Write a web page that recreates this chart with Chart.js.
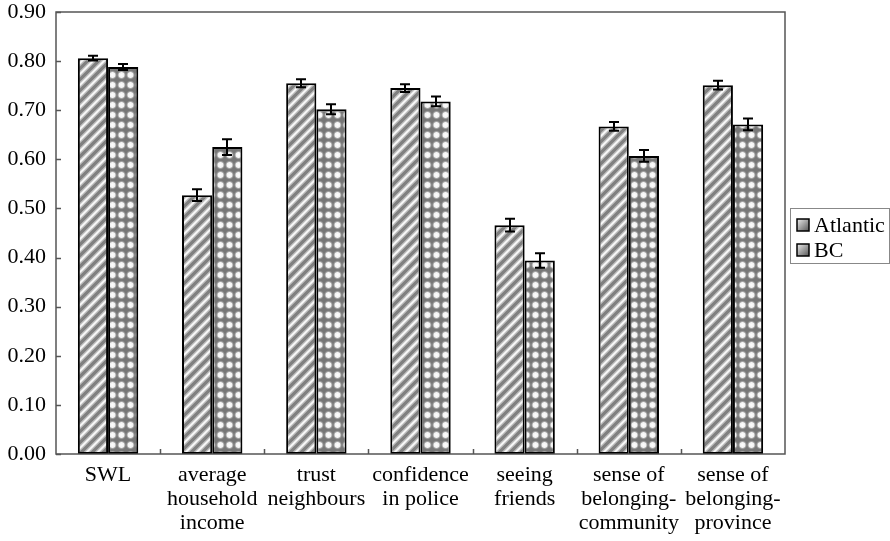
<!DOCTYPE html>
<html>
<head>
<meta charset="utf-8">
<script src="https://cdn.jsdelivr.net/npm/chart.js@4.4.0/dist/chart.umd.min.js"></script>
<style>
  body { margin: 0; background: #fff; }
  #wrap { width: 890px; height: 541px; }
</style>
</head>
<body>
<div id="wrap"><canvas id="chart" width="890" height="541"></canvas></div>
<script>
// chart data
const categories = [
    'SWL',
    ['average', 'household', 'income'],
    ['trust', 'neighbours'],
    ['confidence', 'in police'],
    ['seeing', 'friends'],
    ['sense of', 'belonging-', 'community'],
    ['sense of', 'belonging-', 'province']
];
const atlanticValues = [0.806, 0.527, 0.755, 0.745, 0.466, 0.667, 0.751];
const atlanticErrors = [0.005, 0.012, 0.008, 0.008, 0.013, 0.009, 0.009];
const bcValues = [0.788, 0.625, 0.702, 0.718, 0.394, 0.607, 0.671];
const bcErrors = [0.006, 0.016, 0.010, 0.010, 0.015, 0.012, 0.012];
const yTicks = [0, 0.1, 0.2, 0.3, 0.4, 0.5, 0.6, 0.7, 0.8, 0.9];

const FONT = '"Liberation Serif", "Times New Roman", serif';

function stripePattern() {
    const n = 11;
    const c = document.createElement('canvas');
    c.width = n; c.height = n;
    const g = c.getContext('2d');
    g.fillStyle = '#808080';
    g.fillRect(0, 0, n, n);
    g.strokeStyle = 'rgba(255,255,255,0.5)';
    g.lineWidth = 4.5;
    g.beginPath();
    g.moveTo(-n, 2 * n); g.lineTo(2 * n, -n);
    g.moveTo(-n, n); g.lineTo(n, -n);
    g.moveTo(0, 2 * n); g.lineTo(2 * n, 0);
    g.stroke();
    g.strokeStyle = '#fafafa';
    g.lineWidth = 1.8;
    g.stroke();
    return g.createPattern(c, 'repeat');
}

function dotPattern() {
    const c = document.createElement('canvas');
    c.width = 9; c.height = 10;
    const g = c.getContext('2d');
    g.fillStyle = '#777';
    g.fillRect(0, 0, 9, 10);
    const grad = g.createRadialGradient(4.5, 5, 0, 4.5, 5, 5);
    grad.addColorStop(0, '#ffffff');
    grad.addColorStop(0.5, '#f2f2f2');
    grad.addColorStop(1, 'rgba(119,119,119,0)');
    g.fillStyle = grad;
    g.fillRect(0, 0, 9, 10);
    return g.createPattern(c, 'repeat');
}

const errorBars = {
    id: 'errorBars',
    afterDatasetsDraw(chart) {
        const ctx = chart.ctx;
        const y = chart.scales.y;
        ctx.save();
        ctx.strokeStyle = '#000';
        ctx.lineWidth = 2;
        chart.data.datasets.forEach((ds, di) => {
            const meta = chart.getDatasetMeta(di);
            meta.data.forEach((bar, i) => {
                const v = ds.data[i], e = ds.errors[i];
                const x = Math.round(bar.x);
                const top = y.getPixelForValue(v + e);
                const bot = y.getPixelForValue(v - e);
                ctx.beginPath();
                ctx.moveTo(x, top); ctx.lineTo(x, bot);
                ctx.moveTo(x - 5, top); ctx.lineTo(x + 5, top);
                ctx.moveTo(x - 5, bot); ctx.lineTo(x + 5, bot);
                ctx.stroke();
            });
        });
        ctx.restore();
    }
};

const frame = {
    id: 'frame',
    afterDraw(chart) {
        const ctx = chart.ctx;
        const a = chart.chartArea;
        const x = chart.scales.x;
        const y = chart.scales.y;
        ctx.save();
        ctx.strokeStyle = '#555';
        ctx.lineWidth = 1.5;
        ctx.strokeRect(a.left, a.top, a.right - a.left, a.bottom - a.top);
        ctx.beginPath();
        yTicks.forEach(t => {
            const py = Math.round(y.getPixelForValue(t)) + 0.5;
            ctx.moveTo(a.left, py); ctx.lineTo(a.left + 5, py);
        });
        const half = (x.getPixelForValue(1) - x.getPixelForValue(0)) / 2;
        for (let i = 1; i < categories.length; i++) {
            const px = Math.round(x.getPixelForValue(i) - half) + 0.5;
            ctx.moveTo(px, a.bottom); ctx.lineTo(px, a.bottom - 5);
        }
        ctx.stroke();

        // legend
        const lx = 790, ly = 208, lw = 99, lh = 55;
        ctx.strokeStyle = '#888';
        ctx.lineWidth = 1;
        ctx.strokeRect(lx + 0.5, ly + 0.5, lw, lh);
        ctx.font = '22px ' + FONT;
        ctx.textBaseline = 'middle';
        chart.data.datasets.forEach((ds, i) => {
            const cy = ly + 17 + i * 25;
            const grad = ctx.createLinearGradient(lx + 7, cy - 6, lx + 19, cy + 6);
            grad.addColorStop(0, '#eee');
            grad.addColorStop(1, '#555');
            ctx.fillStyle = grad;
            ctx.fillRect(lx + 7, cy - 6, 12, 12);
            ctx.strokeStyle = '#000';
            ctx.lineWidth = 1.5;
            ctx.strokeRect(lx + 7, cy - 6, 12, 12);
            ctx.fillStyle = '#000';
            ctx.fillText(ds.label, lx + 24, cy + 1);
        });
        ctx.restore();
    }
};

const ctx = document.getElementById('chart').getContext('2d');
new Chart(ctx, {
    type: 'bar',
    data: {
        labels: categories,
        datasets: [{
            label: 'Atlantic',
            data: atlanticValues,
            errors: atlanticErrors,
            backgroundColor: stripePattern(),
            borderColor: '#000',
            borderWidth: 2,
            borderSkipped: false,
            categoryPercentage: 0.58,
            barPercentage: 1
        }, {
            label: 'BC',
            data: bcValues,
            errors: bcErrors,
            backgroundColor: dotPattern(),
            borderColor: '#000',
            borderWidth: 2,
            borderSkipped: false,
            categoryPercentage: 0.58,
            barPercentage: 1
        }]
    },
    options: {
        responsive: false,
        animation: false,
        layout: { padding: { top: 12, right: 105, left: 0, bottom: 0 } },
        plugins: {
            legend: { display: false },
            tooltip: { enabled: false }
        },
        scales: {
            x: {
                grid: { display: false, drawTicks: false },
                border: { display: false },
                afterFit: axis => { axis.height = 87; axis.paddingLeft = 0; axis.paddingRight = 0; },
                ticks: {
                    color: '#000',
                    font: { family: FONT, size: 22, lineHeight: 1.1 },
                    maxRotation: 0,
                    autoSkip: false,
                    padding: 9
                }
            },
            y: {
                min: 0,
                max: 0.9,
                grid: { display: false, drawTicks: false },
                border: { display: false },
                afterBuildTicks: axis => { axis.ticks = yTicks.map(v => ({ value: v })); },
                afterFit: axis => { axis.width = 56; axis.paddingTop = 0; axis.paddingBottom = 0; },
                ticks: {
                    color: '#000',
                    font: { family: FONT, size: 22 },
                    padding: 10,
                    callback: v => v.toFixed(2)
                }
            }
        }
    },
    plugins: [errorBars, frame]
});
</script>
</body>
</html>
